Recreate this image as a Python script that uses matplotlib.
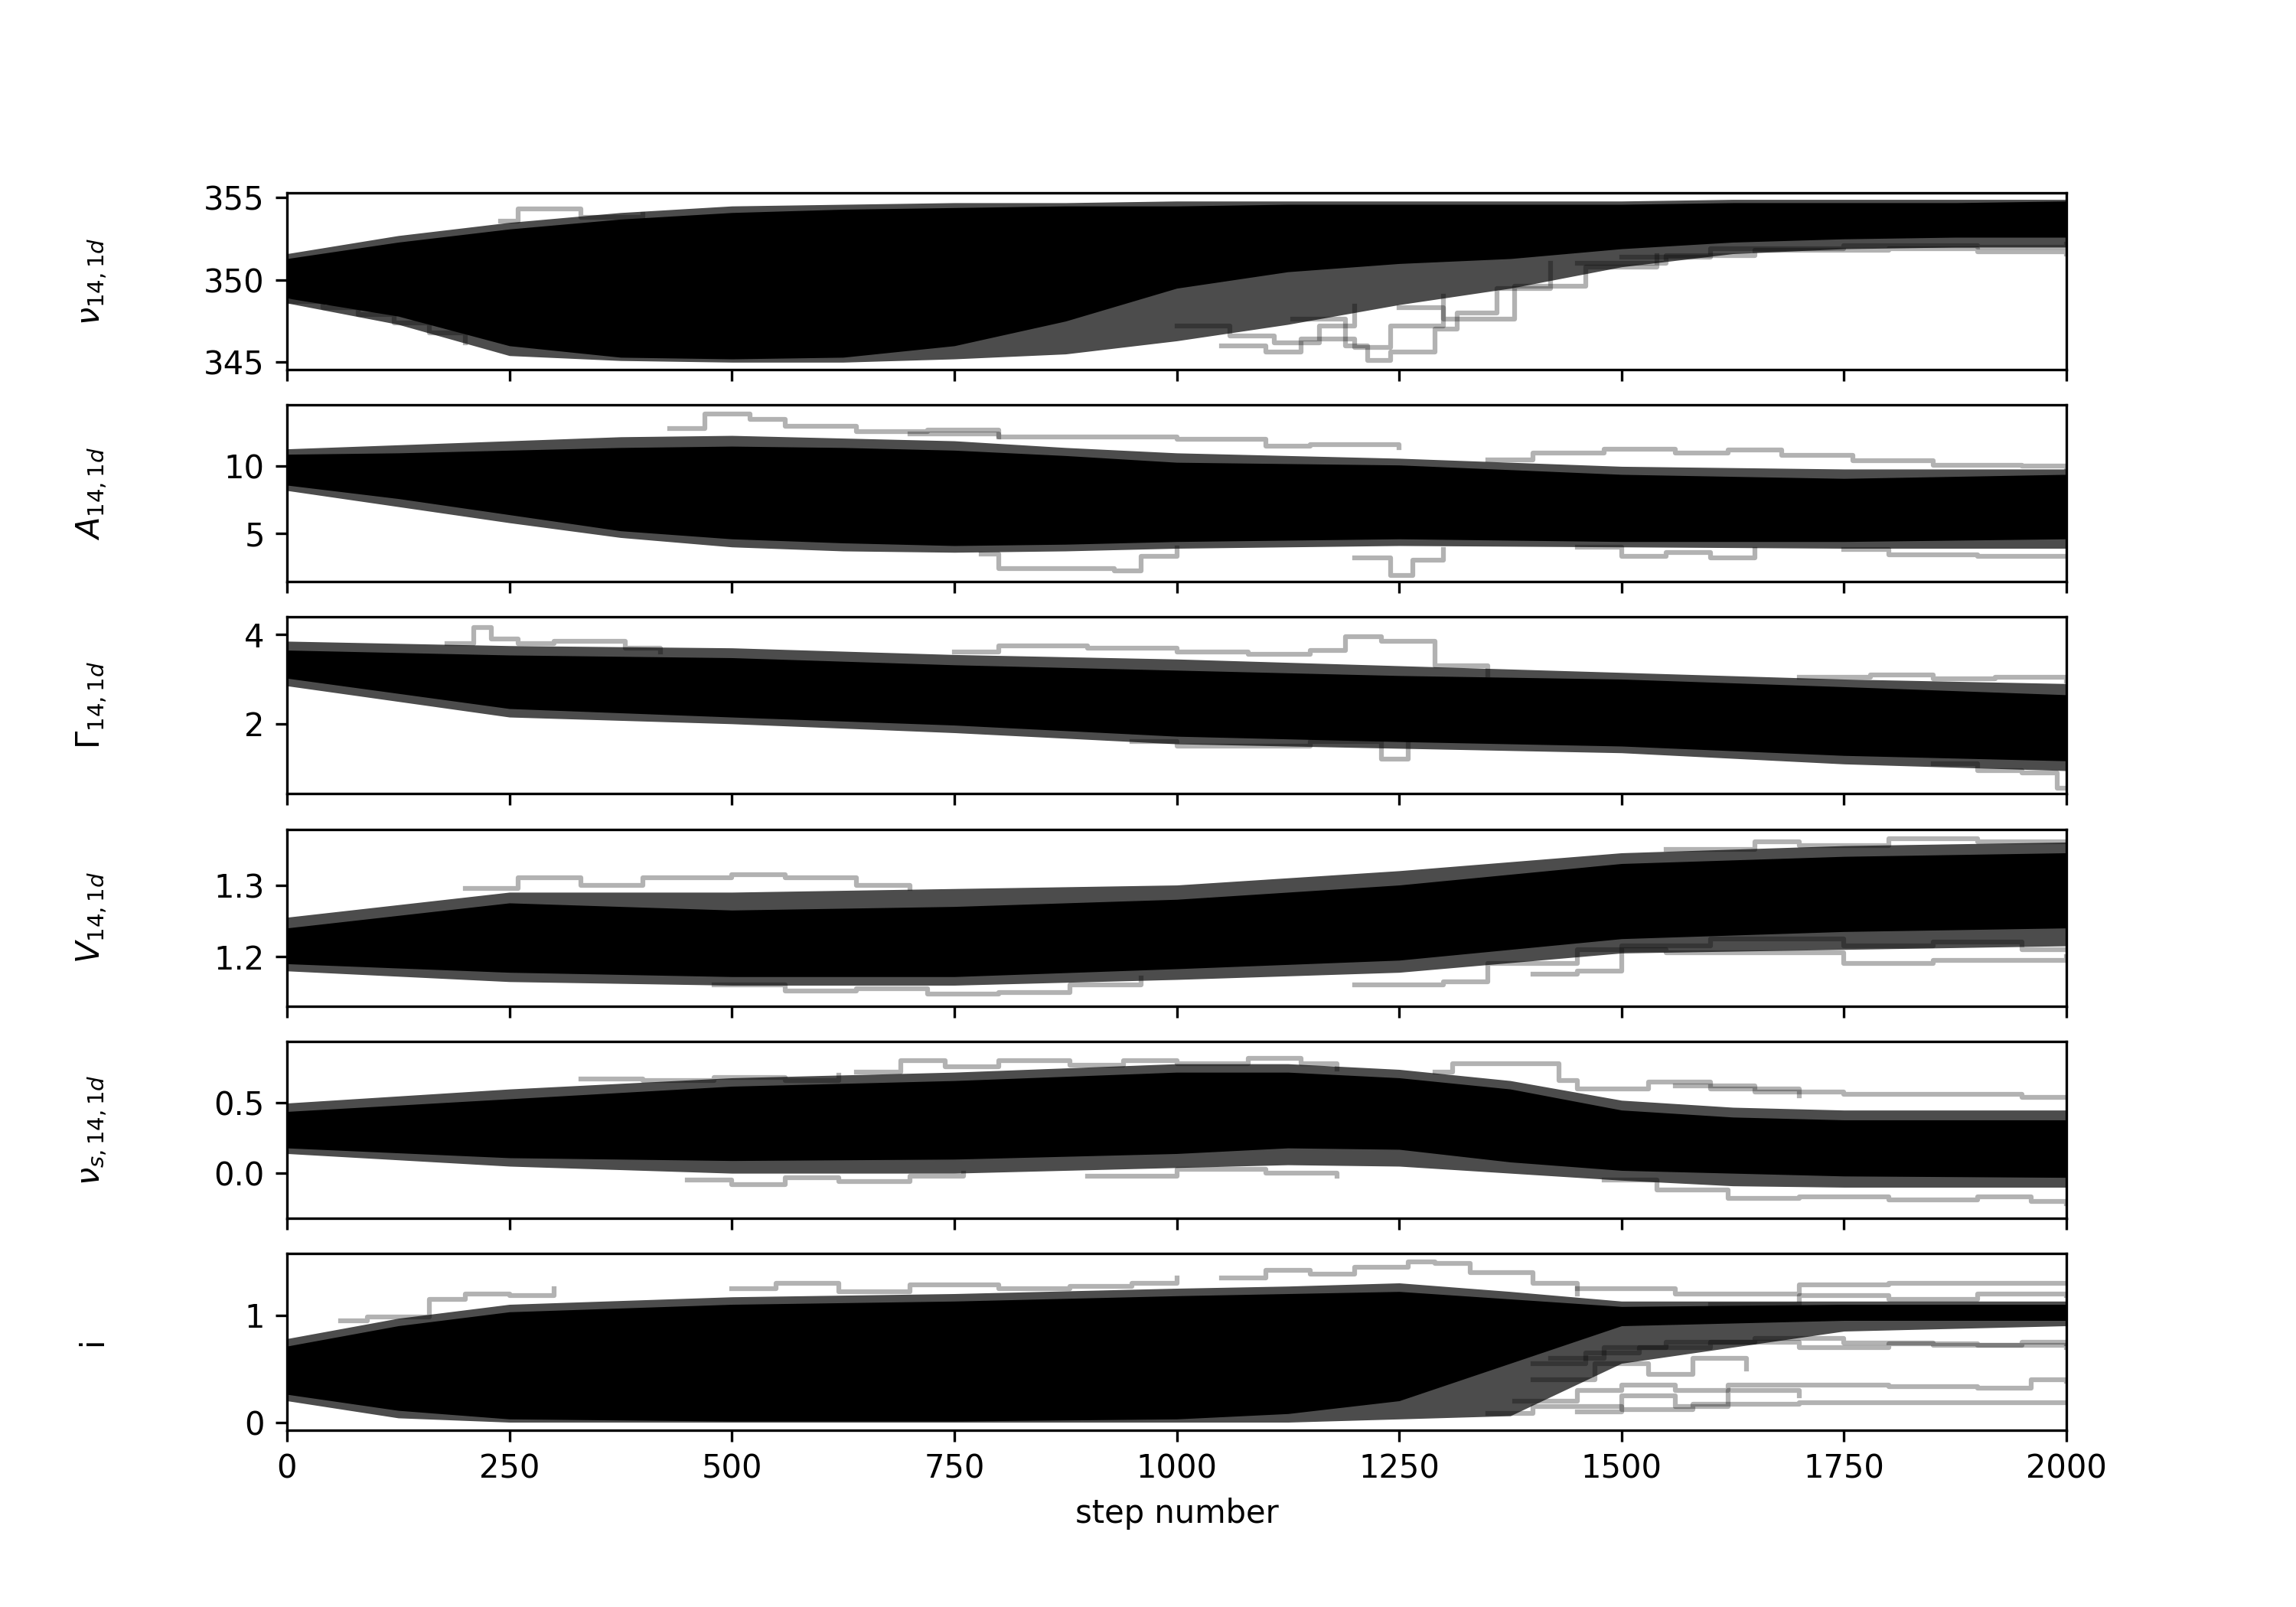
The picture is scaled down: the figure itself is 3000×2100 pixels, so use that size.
import numpy as np
import matplotlib
matplotlib.use("Agg")
import matplotlib.pyplot as plt

n_steps = 2000
labels = [r"$\nu_{14,1d}$", r"$A_{14,1d}$", r"$\Gamma_{14,1d}$",
          r"$V_{14,1d}$", r"$\nu_{s,14,1d}$", "i"]
ylims = [(344.55, 355.3), (1.41, 14.57), (0.43, 4.39),
         (1.131, 1.378), (-0.32, 0.94), (-0.075, 1.575)]

# panel 1: nu
s1 = [0, 125, 250, 375, 500, 625, 750, 875, 1000, 1125, 1250, 1375, 1500, 1625, 1750, 1875, 2000]
nu_hi = [351.3, 352.3, 353.1, 353.7, 354.1, 354.3, 354.4, 354.5, 354.5, 354.6, 354.6, 354.6, 354.6, 354.7, 354.7, 354.7, 354.8]
nu_lo = [348.9, 347.8, 346.0, 345.3, 345.2, 345.3, 346.0, 347.5, 349.5, 350.5, 351.0, 351.3, 351.9, 352.3, 352.5, 352.6, 352.6]
nu_mhi = [351.6, 352.7, 353.5, 354.1, 354.5, 354.6, 354.7, 354.7, 354.8, 354.8, 354.8, 354.8, 354.8, 354.9, 354.9, 354.9, 354.9]
nu_mlo = [348.6, 347.3, 345.4, 345.1, 345.0, 345.0, 345.2, 345.5, 346.3, 347.3, 348.5, 349.5, 350.8, 351.6, 351.9, 352.0, 352.0]
nu_walkers = [
    ([1130, 1190, 1215, 1240, 1290, 1315, 1360, 1420], [347.6, 346.0, 345.1, 345.6, 347.0, 348.0, 349.5, 351.0]),
    ([1250, 1300, 1380, 1460, 1540], [348.3, 347.6, 349.6, 350.8, 351.5]),
    ([1000, 1060, 1110, 1160, 1200], [347.2, 346.6, 346.2, 347.2, 348.4]),
    ([1050, 1100, 1140, 1200, 1240, 1300], [346.0, 345.6, 346.4, 345.9, 347.2, 349.0]),
    ([1450, 1550, 1650, 1800, 1900, 2000], [351.0, 351.5, 351.8, 351.9, 351.7, 351.6]),
    ([1500, 1600, 1750, 1900, 2000], [351.4, 351.9, 352.1, 352.0, 352.2]),
    ([240, 260, 330, 400], [353.6, 354.3, 353.8, 354.0]),
    ([0, 40, 80, 120, 160, 200], [348.7, 348.3, 347.9, 347.4, 346.8, 346.2]),
]

# panel 2: A
s2 = [0, 125, 250, 375, 500, 625, 750, 875, 1000, 1250, 1500, 1750, 2000]
a_hi = [10.9, 11.0, 11.2, 11.4, 11.5, 11.4, 11.2, 10.8, 10.3, 10.1, 9.4, 9.1, 9.4]
a_lo = [8.6, 7.6, 6.4, 5.2, 4.6, 4.3, 4.1, 4.2, 4.4, 4.6, 4.4, 4.4, 4.6]
a_mhi = [11.3, 11.6, 11.9, 12.2, 12.3, 12.1, 11.9, 11.4, 11.0, 10.6, 10.0, 9.8, 9.8]
a_mlo = [8.2, 7.0, 5.8, 4.7, 4.0, 3.7, 3.6, 3.7, 3.9, 4.1, 4.0, 3.9, 3.9]
a_walkers = [
    ([780, 800, 930, 960, 1000], [3.5, 2.4, 2.2, 3.3, 3.9]),
    ([1200, 1240, 1265, 1300], [3.2, 1.9, 3.0, 3.8]),
    ([430, 470, 520, 560, 640, 720, 800], [12.8, 13.9, 13.5, 13.0, 12.6, 12.7, 12.2]),
    ([700, 800, 900, 1000, 1100, 1150, 1250], [12.4, 12.2, 12.2, 12.0, 11.5, 11.6, 11.4]),
    ([1350, 1400, 1480, 1560, 1620, 1680, 1760, 1850, 1950, 2000], [10.5, 11.0, 11.3, 11.0, 11.2, 10.8, 10.4, 10.1, 10.0, 9.9]),
    ([1750, 1800, 1900, 2000], [3.8, 3.4, 3.3, 3.3]),
    ([1450, 1500, 1550, 1600, 1650], [4.0, 3.3, 3.6, 3.2, 3.8]),
]

# panel 3: Gamma
s3 = [0, 250, 500, 750, 1000, 1250, 1500, 1750, 2000]
g_hi = [3.65, 3.54, 3.48, 3.32, 3.2, 3.08, 3.0, 2.83, 2.65]
g_lo = [3.02, 2.34, 2.15, 1.97, 1.72, 1.6, 1.5, 1.29, 1.17]
g_mhi = [3.85, 3.75, 3.7, 3.55, 3.45, 3.3, 3.15, 3.0, 2.9]
g_mlo = [2.85, 2.15, 2.0, 1.8, 1.55, 1.45, 1.35, 1.1, 0.95]
g_walkers = [
    ([180, 210, 230, 260, 300, 380, 420], [3.8, 4.15, 3.9, 3.8, 3.85, 3.7, 3.6]),
    ([750, 800, 900, 1000, 1080, 1150, 1190, 1230, 1290, 1350], [3.6, 3.75, 3.7, 3.6, 3.55, 3.65, 3.95, 3.85, 3.3, 3.1]),
    ([1700, 1780, 1850, 1920, 2000], [3.05, 3.1, 3.0, 3.05, 2.95]),
    ([950, 1000, 1080, 1150, 1230, 1260], [1.6, 1.5, 1.5, 1.6, 1.2, 1.6]),
    ([1850, 1900, 1950, 1990, 2000], [1.1, 0.95, 0.9, 0.55, 0.55]),
]

# panel 4: V
s4 = [0, 250, 500, 750, 1000, 1250, 1500, 1750, 2000]
v_hi = [1.24, 1.275, 1.265, 1.27, 1.28, 1.30, 1.33, 1.34, 1.345]
v_lo = [1.19, 1.178, 1.172, 1.172, 1.183, 1.195, 1.225, 1.235, 1.24]
v_mhi = [1.255, 1.29, 1.29, 1.295, 1.30, 1.32, 1.345, 1.355, 1.36]
v_mlo = [1.18, 1.165, 1.16, 1.16, 1.168, 1.178, 1.205, 1.21, 1.215]
v_walkers = [
    ([200, 260, 330, 400, 500, 560, 640, 700], [1.295, 1.31, 1.3, 1.31, 1.315, 1.31, 1.3, 1.295]),
    ([480, 560, 640, 720, 800, 880, 960], [1.16, 1.152, 1.155, 1.148, 1.15, 1.16, 1.17]),
    ([1200, 1300, 1350, 1450, 1550, 1650, 1750, 1850, 2000], [1.16, 1.165, 1.19, 1.21, 1.205, 1.205, 1.19, 1.195, 1.2]),
    ([1550, 1650, 1700, 1800, 1900, 2000], [1.35, 1.36, 1.355, 1.365, 1.36, 1.36]),
    ([1400, 1450, 1500, 1600, 1750, 1850, 1950, 2000], [1.175, 1.18, 1.215, 1.225, 1.215, 1.22, 1.21, 1.21]),
]

# panel 5: nu_s
s5 = [0, 250, 500, 750, 1000, 1125, 1250, 1375, 1500, 1625, 1750, 2000]
ns_hi = [0.44, 0.53, 0.62, 0.66, 0.72, 0.72, 0.68, 0.6, 0.45, 0.40, 0.38, 0.38]
ns_lo = [0.18, 0.11, 0.09, 0.1, 0.14, 0.18, 0.17, 0.08, 0.02, 0.0, -0.02, -0.03]
ns_mhi = [0.5, 0.6, 0.68, 0.72, 0.78, 0.78, 0.74, 0.66, 0.52, 0.47, 0.45, 0.45]
ns_mlo = [0.14, 0.05, 0.0, 0.0, 0.04, 0.06, 0.05, 0.0, -0.05, -0.09, -0.1, -0.1]
ns_walkers = [
    ([330, 400, 480, 560, 620], [0.67, 0.66, 0.68, 0.66, 0.7]),
    ([640, 690, 740, 800, 880, 940, 1000, 1080, 1140, 1180], [0.72, 0.8, 0.76, 0.8, 0.77, 0.8, 0.78, 0.82, 0.78, 0.74]),
    ([1290, 1310, 1430, 1450, 1530, 1600, 1700], [0.72, 0.78, 0.66, 0.6, 0.65, 0.6, 0.55]),
    ([1560, 1650, 1750, 1850, 1950, 2000], [0.62, 0.58, 0.56, 0.56, 0.54, 0.54]),
    ([450, 500, 560, 620, 700, 760], [-0.05, -0.08, -0.03, -0.06, -0.02, 0.0]),
    ([1480, 1540, 1620, 1700, 1800, 1900, 1960, 2000], [-0.05, -0.12, -0.18, -0.17, -0.19, -0.17, -0.2, -0.22]),
    ([900, 1000, 1100, 1180], [-0.02, 0.03, 0.0, -0.02]),
]

# panel 6: i
s6 = [0, 125, 250, 500, 750, 1000, 1125, 1250, 1375, 1500, 1750, 2000]
i_hi = [0.71, 0.9, 1.03, 1.1, 1.13, 1.18, 1.2, 1.22, 1.15, 1.08, 1.1, 1.1]
i_lo = [0.26, 0.11, 0.03, 0.01, 0.01, 0.03, 0.08, 0.2, 0.55, 0.9, 0.95, 0.95]
i_mhi = [0.78, 0.97, 1.1, 1.17, 1.2, 1.25, 1.27, 1.3, 1.22, 1.13, 1.13, 1.13]
i_mlo = [0.2, 0.04, 0.0, 0.0, 0.0, 0.0, 0.0, 0.03, 0.06, 0.55, 0.85, 0.9]
i_walkers = [
    ([60, 90, 160, 200, 250, 300], [0.95, 0.98, 1.15, 1.2, 1.18, 1.25]),
    ([500, 550, 620, 700, 800, 880, 950, 1000], [1.25, 1.3, 1.22, 1.28, 1.25, 1.27, 1.3, 1.35]),
    ([1050, 1100, 1150, 1200, 1260, 1290, 1330, 1400, 1450], [1.35, 1.42, 1.38, 1.45, 1.5, 1.48, 1.4, 1.3, 1.2]),
    ([1450, 1560, 1700, 1800, 1900, 2000], [1.25, 1.2, 1.28, 1.3, 1.3, 1.3]),
    ([1600, 1700, 1800, 1900, 2000], [1.1, 1.18, 1.15, 1.2, 1.18]),
    ([1420, 1480, 1550, 1650, 1750, 1850, 1950, 2000], [0.6, 0.7, 0.75, 0.78, 0.74, 0.72, 0.75, 0.73]),
    ([1400, 1460, 1520, 1600, 1700, 1800, 1900, 2000], [0.55, 0.65, 0.7, 0.75, 0.7, 0.73, 0.72, 0.7]),
    ([1380, 1450, 1500, 1560, 1620, 1800, 1900, 1960, 2000], [0.2, 0.3, 0.35, 0.3, 0.35, 0.33, 0.32, 0.4, 0.38]),
    ([1350, 1400, 1500, 1580, 1700, 2000], [0.08, 0.15, 0.12, 0.17, 0.18, 0.18]),
    ([1400, 1470, 1530, 1580, 1640], [0.4, 0.55, 0.45, 0.6, 0.5]),
    ([1450, 1500, 1560, 1620, 1700], [0.1, 0.25, 0.15, 0.3, 0.25]),
]

panels = [
    (s1, nu_lo, nu_hi, nu_mlo, nu_mhi, nu_walkers),
    (s2, a_lo, a_hi, a_mlo, a_mhi, a_walkers),
    (s3, g_lo, g_hi, g_mlo, g_mhi, g_walkers),
    (s4, v_lo, v_hi, v_mlo, v_mhi, v_walkers),
    (s5, ns_lo, ns_hi, ns_mlo, ns_mhi, ns_walkers),
    (s6, i_lo, i_hi, i_mlo, i_mhi, i_walkers),
]

fig, axes = plt.subplots(6, figsize=(10, 7), sharex=True)
for ax, (s, lo, hi, mlo, mhi, walkers), lab, yl in zip(axes, panels, labels, ylims):
    # outer, sparser part of the walker cloud
    ax.fill_between(s, mlo, mhi, color="k", alpha=0.7, lw=0)
    # dense core of the walker cloud
    ax.fill_between(s, lo, hi, color="k", lw=0)
    for wx, wy in walkers:
        ax.plot(wx, wy, "k", alpha=0.3, drawstyle="steps-post")
    ax.set_xlim(0, n_steps)
    ax.set_ylim(*yl)
    ax.set_ylabel(lab)
    ax.yaxis.set_label_coords(-0.1, 0.5)

axes[-1].set_xlabel("step number")
fig.savefig("out.png", dpi=300)
